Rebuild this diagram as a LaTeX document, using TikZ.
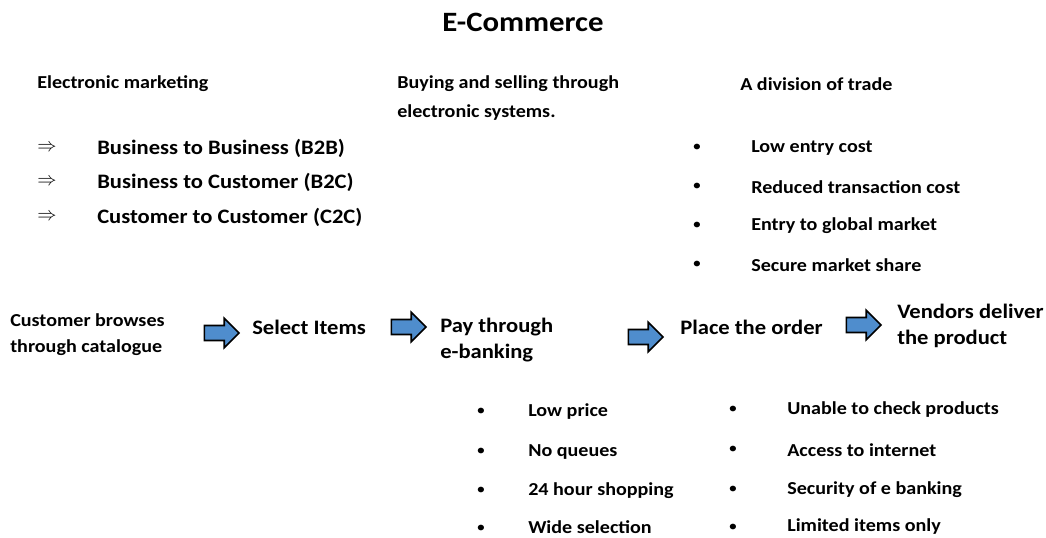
\documentclass[tikz,border=0pt]{standalone}
\usepackage{fontspec}
\setmainfont{Carlito}[FakeStretch=1.1]
\usepackage{tikz}
\usetikzlibrary{positioning}
\usetikzlibrary{shapes.arrows}
\definecolor{arrowblue}{RGB}{79,141,205}
\tikzstyle{small} = [anchor=west, inner sep=0pt, align=left, font=\bfseries\fontsize{13.7}{19.5}\selectfont]
\tikzstyle{big} = [anchor=west, inner sep=0pt, align=left, font=\bfseries\fontsize{15.4}{20}\selectfont]
\tikzstyle{dot} = [inner sep=0pt, font=\fontsize{12}{14}\selectfont]
\tikzstyle{implies} = [inner sep=0pt, font=\fontsize{14}{16}\selectfont]
\tikzstyle{blockarrow} = [single arrow, draw=black, very thick, fill=arrowblue, inner sep=5pt, minimum height=26pt, single arrow head extend=5.5pt]

\begin{document}
\begin{tikzpicture}[x=0.75pt,y=-0.75pt]
            \useasboundingbox (0,0) rectangle (1046,537);
            \node (title) at (523,22) [font=\bfseries\fontsize{21}{24}\selectfont] {E-Commerce};

            % electronic marketing
            \node (emark) [small] at (37,84) {Electronic marketing};
            \node (r1) [implies] at (47,148) {$\Rightarrow$};
            \node (r2) [implies] at (47,182) {$\Rightarrow$};
            \node (r3) [implies] at (47,217) {$\Rightarrow$};
            \node (b2b) [big] at (97,148) {Business to Business (B2B)};
            \node (b2c) [big] at (97,182) {Business to Customer (B2C)};
            \node (c2c) [big] at (97,217) {Customer to Customer (C2C)};

            \node (buysell) [small, font=\bfseries\fontsize{13.7}{21.75}\selectfont] at (397,98) {Buying and selling through\\electronic systems.};

            % division of trade
            \node (trade) [small] at (740,84) {A division of trade};
            \node (d1) [dot] at (697,148) {•};
            \node (d2) [dot] at (697,187) {•};
            \node (d3) [dot] at (697,226) {•};
            \node (d4) [dot] at (697,265) {•};
            \node (cost) [small] at (751,148) {Low entry cost};
            \node (trans) [small] at (751,187) {Reduced transaction cost};
            \node (global) [small] at (751,226) {Entry to global market};
            \node (share) [small] at (751,265) {Secure market share};

            % flow
            \node (browse) [small] at (10,335) {Customer browses\\through catalogue};
            \node (select) [big] at (252,327) {Select Items};
            \node (pay) [big] at (440,340) {Pay through\\e-banking};
            \node (place) [big] at (680,327) {Place the order};
            \node (deliver) [big] at (897,326) {Vendors deliver\\the product};
            \node (a1) [blockarrow] at (218,333) {};
            \node (a2) [blockarrow] at (405,327) {};
            \node (a3) [blockarrow] at (642,337) {};
            \node (a4) [blockarrow] at (860,325) {};

            % advantages
            \node (p1) [dot] at (481,412) {•};
            \node (p2) [dot] at (481,452) {•};
            \node (p3) [dot] at (481,491) {•};
            \node (p4) [dot] at (481,529) {•};
            \node (price) [small] at (528,412) {Low price};
            \node (queue) [small] at (528,452) {No queues};
            \node (hour) [small] at (528,491) {24 hour shopping};
            \node (wide) [small] at (528,527) {Wide selection};

            % disadvantages
            \node (q1) [dot] at (733,410) {•};
            \node (q2) [dot] at (733,450) {•};
            \node (q3) [dot] at (733,490) {•};
            \node (q4) [dot] at (733,528) {•};
            \node (check) [small] at (787,410) {Unable to check products};
            \node (access) [small] at (787,450) {Access to internet};
            \node (secure) [small] at (787,490) {Security of e banking};
            \node (limit) [small] at (787,527) {Limited items only};
\end{tikzpicture}
\end{document}
